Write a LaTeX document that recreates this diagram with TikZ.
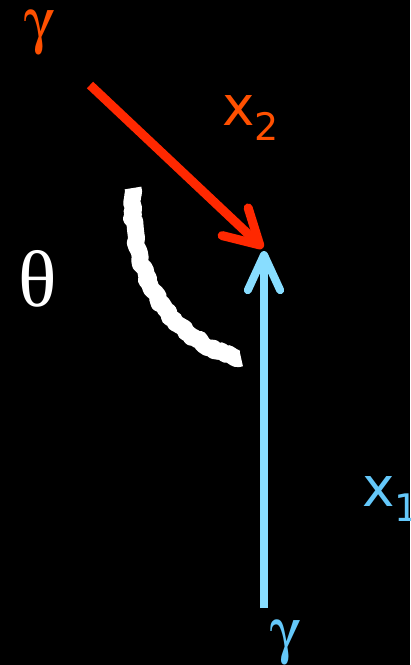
\RequirePackage{fix-cm}
\documentclass[tikz,border=0pt]{standalone}
\usepackage[Symbol]{upgreek}
\usepackage{fontspec}
\setmainfont{Liberation Serif}
\newfontfamily\labfont{DejaVu Sans}
\usetikzlibrary{arrows.meta,decorations.pathmorphing}

\definecolor{photred}{RGB}{255,40,0}
\definecolor{photorange}{RGB}{255,80,0}
\definecolor{photblue}{RGB}{136,221,255}
\definecolor{photbluetxt}{RGB}{100,200,250}

\tikzset{
  greek/.style={inner sep=0pt, font=\fontsize{44}{44}\selectfont},
  vlab/.style={inner sep=0pt, anchor=base west, font=\labfont\fontsize{39}{39}\selectfont},
  chalk/.style={white, line width=12pt, line join=round,
    decorate, decoration={random steps, segment length=2.5pt, amplitude=1.2pt}},
}

\begin{document}
\begin{tikzpicture}[x=0.025cm, y=-0.025cm]
  \fill[black] (0,0) rectangle (410,665);
  \useasboundingbox (0,0) rectangle (410,665);

  % end points of the two photons
  \coordinate (redstart) at (90,85);
  \coordinate (redtip) at (263,248);
  \coordinate (bluestart) at (264,608);
  \coordinate (bluetip) at (264,251);

  % incoming photon x2
  \draw[photred, line width=6.4pt, -{Straight Barb[length=24pt,width=27pt,round]}]
    (redstart) -- (redtip);
  % incoming photon x1
  \draw[photblue, line width=5.7pt, -{Straight Barb[length=25pt,width=23pt,round]}]
    (bluestart) -- (bluetip);

  % opening angle, chalk stroke
  \draw[chalk] (133,188) .. controls (128,260) and (160,340) .. (241,358);

  % labels
  \node[greek, text=photorange] (gtop) at (39,33) {$\upgamma$};
  \node[greek, text=photbluetxt] (gbot) at (285,643) {$\upgamma$};
  \node[inner sep=0pt, text=white, font=\fontsize{57}{57}\selectfont] (theta) at (38,279) {θ};
  \node[vlab, text=photorange] (xtwo) at (222,125)
    {x\raisebox{-11pt}{\fontsize{27}{27}\selectfont 2}};
  \node[vlab, text=photbluetxt] (xone) at (362,506)
    {x\raisebox{-11pt}{\fontsize{27}{27}\selectfont 1}};
\end{tikzpicture}
\end{document}
